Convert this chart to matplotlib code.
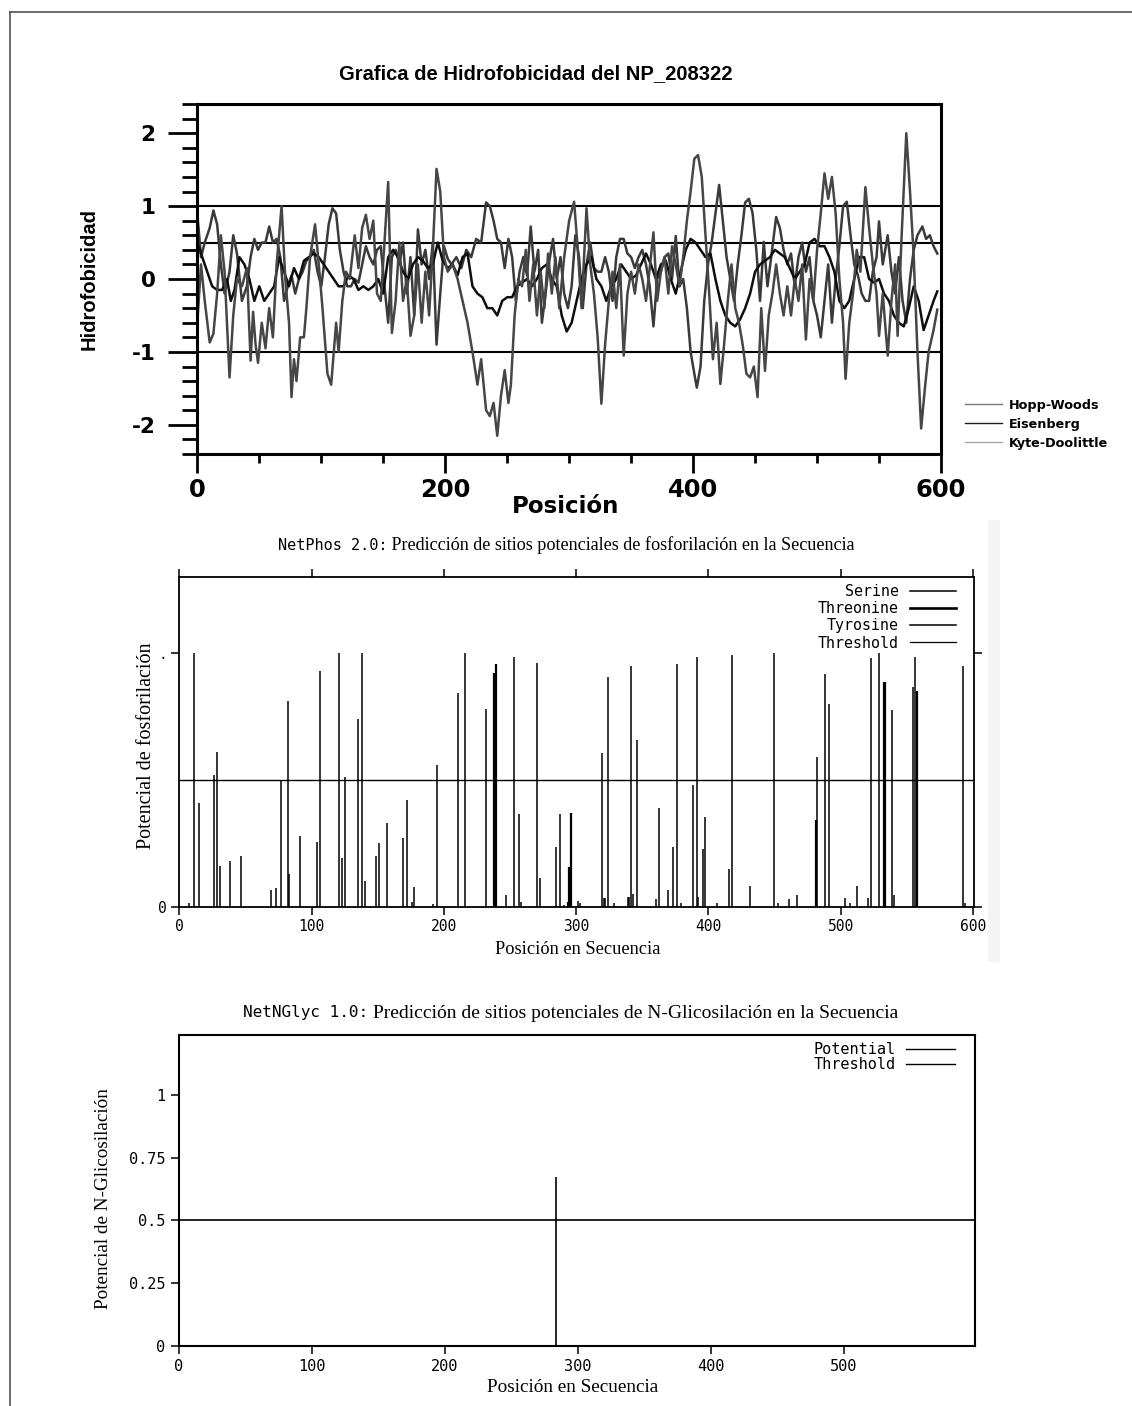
import numpy as np
import matplotlib
matplotlib.use('Agg')
import matplotlib.pyplot as plt
from matplotlib.lines import Line2D
from matplotlib.patches import Rectangle
from matplotlib.ticker import FixedLocator

plt.rcParams['font.family'] = ['DejaVu Sans']
plt.rcParams['axes.unicode_minus'] = False

W, H = 1132, 1406

# --- hydrophobicity profiles: (residue, value) ---
kyte_doolittle = [
    (0, -0.6), (3, 0.2), (6, -0.3), (10, -0.87), (13, -0.75), (16, -0.2), (19, 0.6), (22, 0.1),
    (26, -1.35), (29, -0.5), (32, 0.0), (36, -0.1), (40, 0.15), (43, -1.12), (45, -0.45), (47, -0.9),
    (49, -1.15), (52, -0.6), (55, -0.95), (58, -0.4), (61, -0.8), (64, 0.2), (68, 1.0), (71, 0.0),
    (74, -0.6), (76, -1.62), (78, -1.1), (80, -1.4), (83, -0.8), (86, -0.8), (88, -0.4), (91, 0.3),
    (95, 0.75), (98, 0.2), (101, -0.4), (105, -1.3), (108, -1.45), (112, -0.6), (114, -1.0), (117, -0.3),
    (120, 0.1), (123, 0.0), (127, 0.6), (130, 0.15), (133, 0.7), (136, 0.88), (139, 0.55), (142, 0.8),
    (145, -0.2), (148, -0.3), (151, 0.5), (154, 1.33), (157, -0.74), (160, -0.3), (163, 0.5), (166, -0.3),
    (169, 0.0), (172, -0.78), (175, -0.5), (178, 0.2), (181, -0.6), (184, 0.1), (187, -0.5), (190, 0.4),
    (193, 1.51), (196, 1.2), (199, 0.3), (202, 0.1), (206, 0.2), (210, 0.0), (214, -0.3), (218, -0.6),
    (222, -1.0), (226, -1.45), (229, -1.1), (233, -1.8), (236, -1.88), (239, -1.7), (242, -2.15), (245, -1.6),
    (248, -1.25), (251, -1.7), (253, -1.45), (256, -0.5), (259, 0.0), (262, -0.1), (265, 0.4), (268, -0.3),
    (271, 0.2), (274, -0.5), (277, 0.1), (280, -0.4), (283, 0.35), (286, -0.2), (289, 0.3), (292, -0.4),
    (296, 0.3), (300, 0.8), (304, 1.06), (307, 0.4), (310, -0.4), (314, 0.97), (317, 0.2), (320, -0.2),
    (323, -0.8), (326, -1.71), (329, -0.9), (332, -0.3), (335, 0.1), (338, -0.4), (341, 0.2), (344, -1.05),
    (347, -0.2), (350, 0.1), (353, -0.2), (356, 0.2), (359, 0.0), (362, -0.3), (365, 0.15), (368, 0.64),
    (371, -0.3), (374, 0.1), (377, 0.3), (380, -0.2), (383, 0.45), (386, 0.2), (389, -0.1), (392, 0.3),
    (395, 0.8), (398, 1.2), (401, 1.65), (404, 1.7), (407, 1.4), (410, 0.6), (413, -0.2), (416, -1.1),
    (419, -0.6), (422, -1.44), (425, -0.9), (428, -0.3), (431, 0.2), (434, -0.4), (437, -0.6), (440, -0.9),
    (443, -1.3), (446, -1.35), (449, -1.2), (452, -1.62), (455, -0.4), (458, -1.26), (461, -0.5), (464, -0.2),
    (467, 0.2), (470, -0.2), (473, -0.5), (476, -0.1), (479, -0.5), (482, 0.0), (485, -0.3), (488, 0.2),
    (491, -0.83), (494, 0.0), (497, -0.3), (500, 0.4), (503, 0.9), (506, 1.45), (509, 1.1), (512, 1.4),
    (515, 0.9), (518, 0.0), (521, -0.6), (523, -1.37), (526, -0.6), (529, -0.2), (532, 0.4), (535, 0.1),
    (539, 1.26), (542, 0.7), (545, 0.2), (548, -0.2), (550, -0.78), (553, -0.2), (557, -1.05), (560, -0.3),
    (563, 0.2), (565, -0.78), (568, 0.5), (572, 2.0), (575, 1.2), (578, 0.3), (581, -1.0), (584, -2.05),
    (587, -1.5), (590, -1.0), (594, -0.7), (597, -0.42),
]

hopp_woods = [
    (0, 0.9), (3, 0.3), (6, 0.5), (10, 0.7), (13, 0.94), (16, 0.75), (19, 0.2), (22, -0.2),
    (26, 0.1), (29, 0.6), (32, 0.35), (36, -0.3), (40, -0.1), (43, 0.3), (46, 0.55), (49, 0.4),
    (52, 0.5), (55, 0.5), (58, 0.72), (61, 0.5), (64, 0.55), (67, 0.3), (70, -0.3), (73, -0.1),
    (76, 0.05), (79, -0.2), (82, 0.0), (85, 0.1), (88, 0.25), (91, 0.3), (94, 0.4), (97, 0.1),
    (100, -0.1), (103, 0.3), (106, 0.75), (109, 0.97), (112, 0.9), (115, 0.4), (118, 0.1), (121, -0.1),
    (124, -0.1), (127, 0.0), (130, -0.05), (133, 0.2), (136, 0.45), (139, 0.3), (142, 0.2), (145, 0.4),
    (148, 0.45), (151, -0.1), (154, -0.6), (157, 0.3), (160, 0.4), (163, 0.2), (166, 0.5), (169, -0.2),
    (172, 0.3), (175, -0.5), (178, 0.68), (181, 0.2), (184, 0.4), (187, 0.0), (190, 0.5), (193, -0.9),
    (196, -0.2), (199, 0.45), (202, 0.28), (205, 0.2), (209, 0.3), (213, 0.15), (217, 0.4), (221, 0.3),
    (225, 0.55), (229, 0.5), (233, 1.05), (236, 1.0), (239, 0.8), (242, 0.55), (245, 0.5), (248, 0.15),
    (251, 0.55), (254, 0.3), (257, -0.3), (260, 0.1), (263, 0.3), (266, 0.05), (269, 0.72), (272, 0.1),
    (275, 0.4), (278, -0.6), (281, -0.2), (284, 0.25), (287, 0.55), (290, 0.0), (293, 0.3), (296, -0.2),
    (299, -0.4), (302, -0.1), (305, 0.6), (308, 0.3), (311, -0.4), (314, 0.2), (317, 0.5), (320, 0.15),
    (323, 0.1), (326, 0.1), (329, 0.3), (332, 0.1), (335, -0.3), (338, 0.3), (341, 0.55), (344, 0.55),
    (347, 0.35), (350, 0.3), (353, 0.15), (356, 0.3), (359, 0.4), (362, 0.2), (365, -0.1), (368, -0.65),
    (371, 0.0), (374, 0.1), (377, 0.3), (380, 0.35), (383, 0.0), (386, 0.59), (389, -0.1), (392, 0.0),
    (395, -0.4), (398, -1.0), (401, -1.3), (403, -1.49), (406, -1.2), (409, -0.3), (412, 0.2), (415, 0.5),
    (418, 0.9), (421, 1.29), (424, 0.8), (427, 0.3), (430, 0.0), (433, -0.3), (436, 0.2), (439, 0.6),
    (442, 1.05), (445, 1.1), (448, 0.9), (451, 0.4), (454, -0.3), (457, 0.51), (460, -0.1), (463, 0.3),
    (467, 0.85), (470, 0.7), (473, 0.4), (476, 0.2), (479, 0.35), (482, -0.1), (485, 0.3), (488, 0.5),
    (491, 0.1), (494, 0.3), (497, -0.3), (500, -0.5), (503, -0.8), (506, -0.3), (509, 0.2), (512, -0.6),
    (515, 0.0), (518, 0.45), (521, 1.0), (524, 1.06), (527, 0.6), (530, 0.2), (533, 0.05), (536, -0.2),
    (539, -0.3), (542, -0.3), (545, 0.1), (548, 0.3), (550, 0.79), (553, 0.2), (557, 0.6), (560, 0.1),
    (563, -0.2), (566, 0.3), (569, -0.3), (572, -0.6), (575, 0.0), (578, 0.4), (581, 0.6), (585, 0.72),
    (588, 0.55), (591, 0.6), (594, 0.45), (597, 0.35),
]

eisenberg = [
    (0, 0.5), (4, 0.3), (8, 0.1), (12, -0.1), (16, -0.15), (20, -0.15), (24, 0.0), (27, -0.3),
    (30, -0.15), (34, 0.3), (38, 0.2), (42, 0.0), (46, -0.3), (50, -0.1), (54, -0.3), (58, -0.2),
    (62, -0.1), (66, 0.3), (70, 0.1), (74, -0.1), (78, 0.15), (82, 0.0), (86, 0.25), (90, 0.3),
    (94, 0.35), (98, 0.3), (102, 0.2), (106, 0.1), (110, 0.0), (114, -0.1), (118, -0.1), (122, 0.05),
    (126, 0.0), (130, -0.15), (134, -0.1), (138, -0.15), (142, -0.1), (146, 0.0), (150, -0.2), (154, 0.3),
    (158, 0.4), (162, 0.3), (166, 0.1), (170, 0.0), (174, 0.2), (178, 0.3), (182, 0.25), (186, 0.15),
    (190, 0.2), (194, 0.5), (198, 0.25), (202, 0.15), (206, 0.2), (210, 0.05), (214, 0.3), (218, 0.35),
    (222, -0.1), (226, -0.2), (230, -0.25), (234, -0.4), (238, -0.4), (242, -0.5), (246, -0.3), (250, -0.25),
    (254, -0.25), (258, -0.1), (262, -0.05), (266, 0.0), (270, -0.1), (274, 0.0), (278, 0.15), (282, 0.2),
    (286, 0.0), (290, -0.1), (294, -0.5), (298, -0.72), (302, -0.6), (306, -0.3), (310, 0.0), (314, 0.2),
    (318, 0.3), (322, 0.0), (326, -0.1), (330, -0.3), (334, -0.1), (338, 0.0), (342, 0.2), (346, 0.1),
    (350, 0.0), (354, 0.05), (358, 0.2), (362, 0.35), (366, 0.2), (370, 0.0), (374, 0.2), (378, 0.25),
    (382, 0.0), (386, -0.2), (390, 0.1), (394, 0.4), (398, 0.55), (402, 0.5), (406, 0.4), (410, 0.3),
    (414, 0.35), (418, 0.0), (422, -0.3), (426, -0.5), (430, -0.6), (434, -0.65), (438, -0.55), (442, -0.4),
    (446, -0.2), (450, 0.1), (454, 0.2), (458, 0.25), (462, 0.3), (466, 0.4), (470, 0.35), (474, 0.3),
    (478, 0.15), (482, 0.0), (486, 0.1), (490, 0.2), (494, 0.5), (498, 0.55), (502, 0.45), (506, 0.45),
    (510, 0.3), (514, 0.1), (518, -0.3), (522, -0.4), (526, -0.3), (530, 0.0), (534, 0.3), (538, 0.3),
    (542, 0.0), (546, -0.05), (550, 0.0), (554, -0.2), (558, -0.3), (562, -0.5), (566, -0.6), (570, -0.65),
    (574, -0.4), (578, -0.1), (582, -0.3), (586, -0.7), (590, -0.5), (594, -0.3), (597, -0.17),
]
hydro_names = ['Hopp-Woods', 'Eisenberg', 'Kyte-Doolittle']
hydro_levels = [1.0, 0.5, -1.0]

# --- NetPhos 2.0 scores: (position, score) ---
serine = [
    (7, 0.016), (11, 1.0), (15, 0.41), (26, 0.52), (28.5, 0.61), (30.5, 0.16), (38, 0.18), (47, 0.20),
    (69, 0.066), (73, 0.072), (77, 0.50), (82, 0.81), (83.2, 0.127), (91, 0.28), (104, 0.256), (106.4, 0.93),
    (121, 1.0), (122.7, 0.19), (125, 0.51), (135, 0.74), (138, 1.0), (140.4, 0.10), (148.5, 0.20), (150.7, 0.25),
    (157, 0.33), (169, 0.27), (172, 0.42), (175.7, 0.02), (177.2, 0.076), (192, 0.01), (194.6, 0.56),
    (211, 0.84), (216.3, 1.0), (231.6, 0.78), (246.8, 0.046), (253, 0.985), (257, 0.365), (258, 0.02),
    (270.4, 0.96), (272.7, 0.114), (284.8, 0.236), (287.8, 0.365), (291, 0.007), (301.2, 0.022), (303.2, 0.015),
    (321.4, 0.033), (322.1, 0.033), (323.9, 0.905), (328.7, 0.015), (339, 0.04), (340.2, 0.04), (343.3, 0.052),
    (346.3, 0.656), (360.4, 0.029), (362.7, 0.39), (369.8, 0.066), (373.1, 0.236), (376.1, 0.955), (379, 0.015),
    (388.1, 0.48), (391.2, 0.985), (392.2, 0.04), (396.2, 0.226), (406.8, 0.015), (415.9, 0.15), (417.9, 0.99),
    (431.5, 0.083), (449.7, 1.0), (452.7, 0.015), (461, 0.029), (467, 0.046), (482.4, 0.59), (488.5, 0.916),
    (502.9, 0.033), (507, 0.015), (512.4, 0.083), (520.4, 0.033), (522.7, 0.978), (528.8, 1.0), (540, 0.046),
    (554.3, 0.866), (556.3, 0.984), (592.3, 0.947), (594, 0.015),
]
threonine = [
    (238.2, 0.92), (239.7, 0.955), (294.2, 0.02), (294.9, 0.157), (295.4, 0.157), (296.1, 0.37),
    (481.4, 0.34), (532.8, 0.886), (533.6, 0.886), (557.5, 0.85),
]
tyrosine = [
    (319.6, 0.606), (341.3, 0.947), (397.5, 0.354), (491, 0.80), (539, 0.774),
]
phos_threshold = 0.5

# --- NetNGlyc 1.0 ---
glyc_sites = [(284, 0.674)]
glyc_threshold = 0.5

MONO = 'DejaVu Sans Mono'
SERIF = 'Liberation Serif'


def box(x0, y0, x1, y1):
    """Axes rectangle from pixel corners measured from the top-left."""
    return [x0 / W, 1 - y1 / H, (x1 - x0) / W, (y1 - y0) / H]


def split_title(ax, x, y, head, body, mono_size, serif_size):
    ax.text(x, y, head, transform=ax.transAxes, ha='right', va='center',
            family=MONO, fontsize=mono_size)
    ax.text(x, y, ' ' + body, transform=ax.transAxes, ha='left', va='center',
            family=SERIF, fontsize=serif_size)


fig = plt.figure(figsize=(W / 100, H / 100), dpi=100)

# page frame
fig.add_artist(Line2D([10 / W, 10 / W], [0, 1 - 12 / H], color='#505050', lw=1.2))
fig.add_artist(Line2D([10 / W, 1], [1 - 12 / H, 1 - 12 / H], color='#505050', lw=1.2))
fig.add_artist(Rectangle((988 / W, 1 - 962 / H), 12 / W, 442 / H, transform=fig.transFigure,
                         facecolor='#f4f4f4', edgecolor='none'))

# ---------------- hydrophobicity ----------------
ax1 = fig.add_axes(box(197.3, 104, 941, 454))
line_cols = ['#3a3a3a', '#0e0e0e', '#464646']
leg_cols = ['#7a7a7a', '#1e1e1e', '#a8a8a8']
for pts, col in zip([hopp_woods, eisenberg, kyte_doolittle], line_cols):
    p = np.array(pts)
    ax1.plot(p[:, 0], p[:, 1], color=col, lw=1.8)
for lvl in hydro_levels:
    ax1.axhline(lvl, color='black', lw=1.5, zorder=1)
ax1.set_xlim(0, 600)
ax1.set_ylim(-2.4, 2.4)
ax1.set_xticks([0, 200, 400, 600])
ax1.xaxis.set_minor_locator(FixedLocator([50, 100, 150, 250, 300, 350, 450, 500, 550]))
ax1.set_yticks([-2, -1, 0, 1, 2])
ax1.yaxis.set_minor_locator(FixedLocator(np.round(np.arange(-2.4, 2.41, 0.2), 1)))
ax1.tick_params(axis='y', which='major', direction='out', length=21, width=2, pad=9, labelsize=15.5)
ax1.tick_params(axis='y', which='minor', direction='out', length=11, width=2)
ax1.tick_params(axis='x', which='major', direction='out', length=13.5, width=2, pad=4, labelsize=17.5)
ax1.tick_params(axis='x', which='minor', direction='out', length=6.5, width=2)
for lab in ax1.get_xticklabels() + ax1.get_yticklabels():
    lab.set_fontweight('bold')
for s in ax1.spines.values():
    s.set_linewidth(2.2)
ax1.set_title('Grafica de Hidrofobicidad del NP_208322', family='Liberation Sans',
              fontweight='bold', fontsize=14.5, x=(536 - 197.3) / 743.7, y=(454 - 81.7) / 350,
              va='center')
ax1.set_xlabel('Posición', fontsize=16.5, fontweight='bold', va='center')
ax1.xaxis.set_label_coords((566 - 197.3) / 743.7, (454 - 506.7) / 350)
ax1.set_ylabel('Hidrofobicidad', family='Liberation Sans', fontsize=14.5, fontweight='bold', va='center')
ax1.yaxis.set_label_coords((88.7 - 197.3) / 743.7, 0.5)
proxies = [Line2D([], [], color=c, lw=1.0) for c in leg_cols]
ax1.legend(proxies, hydro_names, loc='upper left', bbox_to_anchor=(965 / W, 1 - 398.5 / H),
           bbox_transform=fig.transFigure, frameon=False,
           prop=dict(family='DejaVu Sans', weight='bold', size=9.2),
           handlelength=2.9, handletextpad=0.55, labelspacing=0.47, borderpad=0, borderaxespad=0)

# ---------------- NetPhos ----------------
ax2 = fig.add_axes(box(179.3, 576.7, 974.3, 906.7))
for pts, lw in zip([serine, threonine, tyrosine], [1.1, 1.6, 1.1]):
    p = np.array(pts)
    ax2.vlines(p[:, 0], 0, p[:, 1], colors='black', lw=lw)
ax2.axhline(phos_threshold, color='black', lw=1.0)
ax2.set_xlim(0, 601)
ax2.set_ylim(0, 1.3)
ax2.set_xticks(np.arange(0, 601, 100))
ax2.set_yticks([0, 1])
ax2.set_yticklabels(['0', '.'])
ax2.tick_params(direction='out', length=6, width=1.1, top=True, right=True, labelsize=10.5, pad=3)
for lab in ax2.get_xticklabels() + ax2.get_yticklabels():
    lab.set_family(MONO)
for s in ax2.spines.values():
    s.set_linewidth(1.3)
split_title(ax2, (387 - 179.3) / 795, (906.7 - 545) / 330,
            'NetPhos 2.0:', 'Predicción de sitios potenciales de fosforilación en la Secuencia', 11, 13.1)
ax2.set_xlabel('Posición en Secuencia', family=SERIF, fontsize=13.2, va='center')
ax2.xaxis.set_label_coords((578 - 179.3) / 795, (906.7 - 950) / 330)
ax2.set_ylabel('Potencial de fosforilación', family=SERIF, fontsize=14.5, va='center')
ax2.yaxis.set_label_coords((146.7 - 179.3) / 795, (906.7 - 746) / 330)
phos_handles = [Line2D([], [], color='black', lw=w) for w in [1.1, 1.9, 1.1, 0.9]]
ax2.legend(phos_handles, ['Serine', 'Threonine', 'Tyrosine', 'Threshold'], loc='upper right',
           bbox_to_anchor=(956 / W, 1 - 584 / H), bbox_transform=fig.transFigure, frameon=False,
           markerfirst=False, prop=dict(family=MONO, size=10.8), handlelength=3.1,
           handletextpad=0.7, labelspacing=0.15, borderpad=0, borderaxespad=0)

# ---------------- NetNGlyc ----------------
ax3 = fig.add_axes(box(178.7, 1035, 974.7, 1345.7))
g = np.array(glyc_sites)
ax3.vlines(g[:, 0], 0, g[:, 1], colors='black', lw=1.2)
ax3.axhline(glyc_threshold, color='black', lw=1.2)
ax3.set_xlim(0, 598.5)
ax3.set_ylim(0, 1.24)
ax3.set_xticks(np.arange(0, 501, 100))
ax3.set_yticks([0, 0.25, 0.5, 0.75, 1])
ax3.set_yticklabels(['0', '0.25', '0.5', '0.75', '1'])
ax3.tick_params(direction='out', length=5.5, width=1.1, labelsize=11, pad=4)
for lab in ax3.get_xticklabels() + ax3.get_yticklabels():
    lab.set_family(MONO)
for s in ax3.spines.values():
    s.set_linewidth(1.5)
split_title(ax3, (368 - 178.7) / 796, (1345.7 - 1013) / 310.7,
            'NetNGlyc 1.0:', 'Predicción de sitios potenciales de N-Glicosilación en la Secuencia', 11.5, 14)
ax3.set_xlabel('Posición en Secuencia', family=SERIF, fontsize=13.8, va='center')
ax3.xaxis.set_label_coords((573 - 178.7) / 796, (1345.7 - 1387) / 310.7)
ax3.set_ylabel('Potencial de N-Glicosilación', family=SERIF, fontsize=13.8, va='center')
ax3.yaxis.set_label_coords((103 - 178.7) / 796, (1345.7 - 1199) / 310.7)
glyc_handles = [Line2D([], [], color='black', lw=1.0) for _ in range(2)]
ax3.legend(glyc_handles, ['Potential', 'Threshold'], loc='upper right',
           bbox_to_anchor=(955 / W, 1 - 1042 / H), bbox_transform=fig.transFigure, frameon=False,
           markerfirst=False, prop=dict(family=MONO, size=11), handlelength=3.2,
           handletextpad=0.7, labelspacing=0.02, borderpad=0, borderaxespad=0)

fig.savefig('out.png', dpi=100)
plt.close(fig)
